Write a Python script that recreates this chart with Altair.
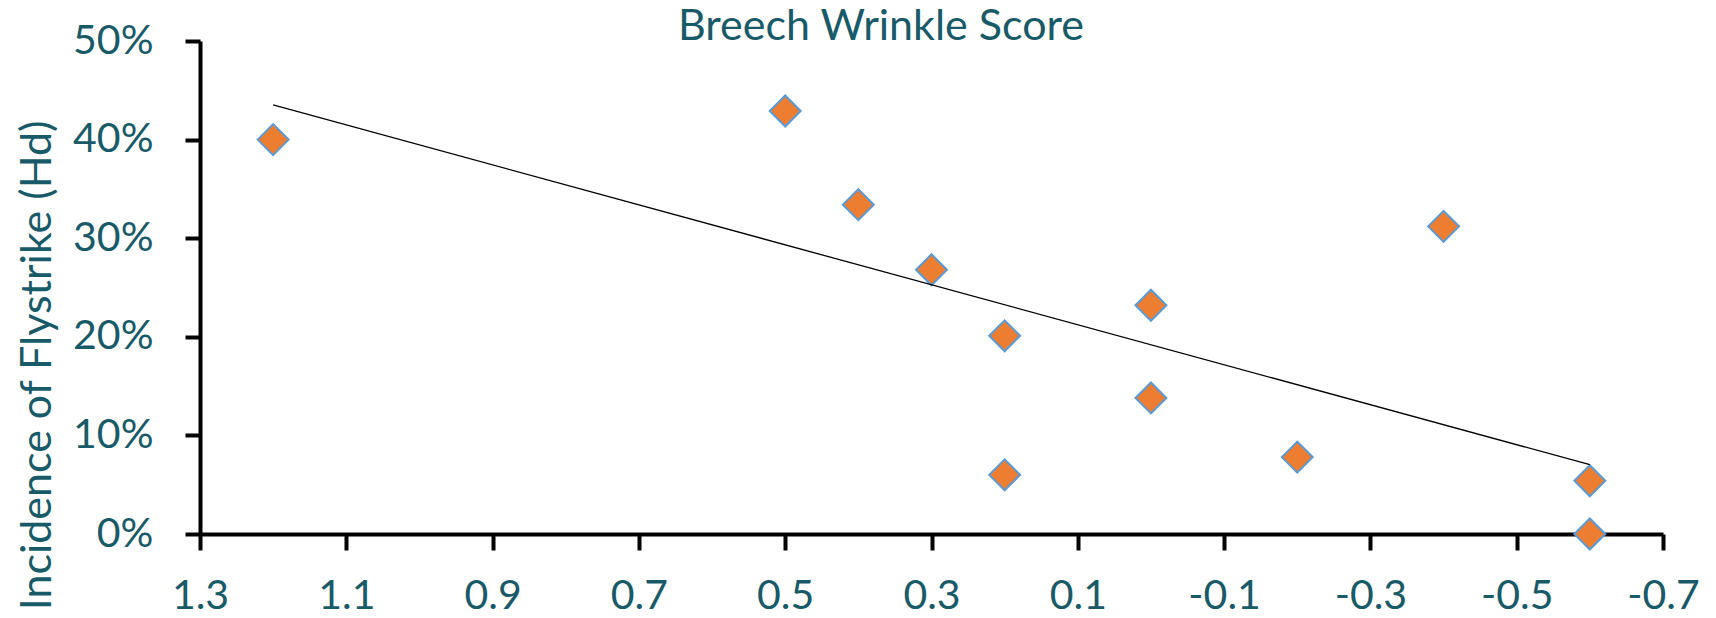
import altair as alt
import pandas as pd

# Data
wrinkle = [1.2, 0.5, 0.4, 0.3, 0.2, 0.2, 0.0, 0.0, -0.2, -0.4, -0.6, -0.6]
incidence = [0.400, 0.429, 0.334, 0.268, 0.201, 0.060, 0.232, 0.138, 0.078, 0.312, 0.054, 0.0]
x_ticks = [1.3, 1.1, 0.9, 0.7, 0.5, 0.3, 0.1, -0.1, -0.3, -0.5, -0.7]
y_ticks = [0, 0.1, 0.2, 0.3, 0.4, 0.5]
chart_title = ["Breech Wrinkle Score"]
y_title = "Incidence of Flystrike (Hd)"

df = pd.DataFrame({"wrinkle": wrinkle, "incidence": incidence})
title_df = pd.DataFrame({"label": chart_title})

TEXT = "#185A68"
FONT = "Lato"

x_enc = alt.X(
    "wrinkle:Q",
    scale=alt.Scale(domain=[-0.7, 1.3], reverse=True, nice=False, zero=False),
    axis=alt.Axis(
        values=x_ticks,
        title=None,
        grid=False,
        labelExpr="replace(format(datum.value, '.1f'), '\u2212', '-')",
        labelFont=FONT,
        labelFontSize=41,
        labelColor=TEXT,
        labelBaseline="alphabetic",
        labelPadding=58,
        labelFlush=False,
        labelOverlap=False,
        tickSize=16,
        tickWidth=4,
        tickColor="black",
        domainColor="black",
        domainWidth=4,
    ),
)

y_enc = alt.Y(
    "incidence:Q",
    scale=alt.Scale(domain=[0, 0.5], nice=False),
    axis=alt.Axis(
        values=y_ticks,
        format=".0%",
        grid=False,
        title=y_title,
        titleFont=FONT,
        titleFontSize=43,
        titleFontWeight="normal",
        titleColor=TEXT,
        titleAngle=270,
        titleAlign="right",
        titleBaseline="alphabetic",
        titleX=-150,
        titleY=79,
        labelFont=FONT,
        labelFontSize=41,
        labelColor=TEXT,
        labelPadding=32,
        labelFlush=False,
        labelOverlap=False,
        tickSize=15,
        tickWidth=4,
        tickColor="black",
        domainColor="black",
        domainWidth=4,
    ),
)

points = alt.Chart(df).mark_point(
    shape="diamond",
    filled=True,
    size=960,
    fill="#ED7D31",
    stroke="#5B9BD5",
    strokeWidth=2,
    opacity=1,
).encode(x=x_enc, y=y_enc)

trend = alt.Chart(df).transform_regression(
    "wrinkle", "incidence"
).mark_line(color="black", strokeWidth=1.3).encode(
    x="wrinkle:Q", y="incidence:Q"
)

# chart title, placed above the plot area
title = alt.Chart(title_df).mark_text(
    font=FONT,
    fontSize=43,
    color=TEXT,
    align="center",
    baseline="alphabetic",
).encode(text="label:N", x=alt.value(681), y=alt.value(-1))

chart = alt.layer(points, trend, title).properties(
    width=1463,
    height=493,
    padding={"left": 192, "top": 33, "right": 45, "bottom": 76},
    autosize=alt.AutoSizeParams(type="none"),
    background="white",
).configure_view(stroke=None)

chart.save("out.html", embed_options={"renderer": "svg", "actions": False})
